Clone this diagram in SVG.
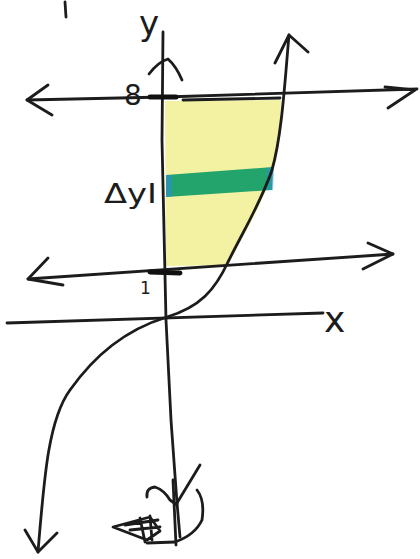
<svg xmlns="http://www.w3.org/2000/svg" width="420" height="559" viewBox="0 0 420 559">
<style>
.ink{fill:none;stroke:#1c1c1c;stroke-width:2.8;stroke-linecap:round;stroke-linejoin:round}
.thick{fill:none;stroke:#111;stroke-width:5;stroke-linecap:round}
.lbl{font-family:"DejaVu Sans","Liberation Sans",sans-serif;fill:#1c1c1c}
</style>
<rect width="420" height="559" fill="#ffffff"/>
<g id="shading">
<path d="M165,101 L281,100 C280,130 278,150 272,172 C262,205 245,235 226,265 L166,266 Z" fill="#f2f2a2"/>
<path d="M166,175 L273,167 L272,190 L166,197 Z" fill="#22a46c"/>
<path d="M166,175 L172,175 L172,197 L166,197 Z" fill="#2f8fd0" opacity="0.6"/>
<path d="M267,168 L274,167 L273,190 L266,190 Z" fill="#2f8fd0" opacity="0.5"/>
</g>
<g id="connectors">
<path class="ink" d="M65,2 L66,17"/>
<path id="y-axis" class="ink" d="M163,32 L162,140 L166,320 L171,420 L177,503"/>
<path class="ink" stroke-width="1.6" d="M173,480 L176,545 M177,503 L180,537"/>
<path class="ink" d="M149,74 Q158,62 168,59 Q176,66 182,80"/>
<path id="x-axis" class="ink" d="M7,323 L323,313"/>
<path id="line-8" class="ink" d="M27,100 L165,97 L417,89"/>
<path class="ink" stroke-width="4" d="M183,100 L280,98"/>
<path class="ink" d="M48,85 L27,100 L52,115 M385,87 L415,90 L388,108"/>
<path id="line-1" class="ink" d="M28,279 L393,254"/>
<path class="ink" d="M48,258 L28,279 L63,285 M368,243 L393,254 L363,269"/>
<path class="thick" d="M150,97 L176,97 M150,272 L180,273"/>
<path id="curve" class="ink" d="M38,552 C44,480 48,420 70,390 C95,355 125,330 167,317 C200,307 215,290 228,262 C245,228 262,200 272,170 C282,135 285,80 289,35"/>
<path class="ink" d="M275,63 L289,35 L308,52 M25,530 L38,552 L57,533"/>
</g>
<g id="bottom-mark">
<path class="ink" d="M147,497 Q146,488 155,487 Q164,490 170,500 L177,505 M177,503 L200,465"/>
<path class="ink" d="M197,490 Q205,500 202,520 Q195,535 175,542 L147,543"/>
<path class="ink" d="M113,527 L150,517 L160,531 L147,540 Z M125,525 L158,520 M130,530 L160,527 M140,518 L145,542 M150,516 L152,540"/>
</g>
<g id="labels">
<text class="lbl" x="139" y="35" font-size="34">y</text>
<text class="lbl" x="124" y="105" font-size="28">8</text>
<text class="lbl" x="104" y="203" font-size="26" textLength="53" lengthAdjust="spacingAndGlyphs">ΔyI</text>
<text class="lbl" x="140" y="294" font-size="17">1</text>
<text class="lbl" x="324" y="332" font-size="36">x</text>
</g>
</svg>
